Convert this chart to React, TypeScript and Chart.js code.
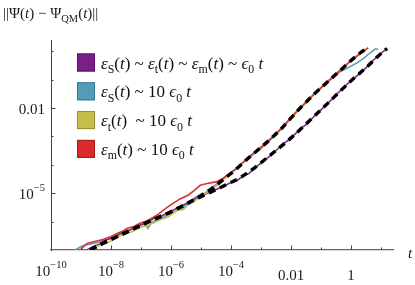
import { useEffect, useRef } from 'react';
import { Chart, registerables } from 'chart.js';

Chart.register(...registerables);

const FONT = '"Liberation Serif", "DejaVu Serif", serif';

// axis ranges
const xAxisMin = 1e-10;
const xAxisMax = 25;
const yAxisMin = 1e-7;
const yAxisMax = 2.5;

// tick values and labels
const xMajorTicks = [1e-10, 1e-8, 1e-6, 1e-4, 1e-2, 1];
const xMajorLabels = ['10^-10', '10^-8', '10^-6', '10^-4', '0.01', '1'];
const xMinorTicks = [1e-9, 1e-7, 1e-5, 1e-3, 0.1, 10];
const yMajorTicks = [1e-5, 1e-2];
const yMajorLabels = ['10^-5', '0.01'];
const yMinorTicks = [1e-6, 1e-4, 1e-3, 0.1, 1];

// data (log10 t, log10 error)
const upperFitLogT = [-8.7, -8.2, -7.5, -6.8, -6.0, -5.4, -5.0, -4.6, -4.2, -3.9, -3.4, -2.8, -2.3, -1.85, -1.2, -0.45, 0.3, 0.57];
const upperFitLogErr = [-7.0, -6.73, -6.38, -6.03, -5.65, -5.33, -5.08, -4.8, -4.47, -4.22, -3.74, -3.2, -2.7, -2.17, -1.48, -0.76, -0.06, 0.12];

const lowerFitLogT = [-8.7, -8.2, -7.5, -6.8, -6.0, -5.4, -4.7, -4.2, -3.7, -3.3, -2.8, -2.0, -1.27, -0.6, 0.03, 0.53, 0.87, 1.2];
const lowerFitLogErr = [-7.0, -6.73, -6.38, -6.03, -5.65, -5.33, -4.97, -4.72, -4.45, -4.17, -3.75, -3.05, -2.33, -1.65, -1.01, -0.55, -0.2, 0.1];

const allLogT = [-8.8, -8.6, -8.4, -8.2, -7.9, -7.7, -7.5, -7.3, -7.0, -6.8, -6.6, -6.4, -6.1, -5.8, -5.5, -5.2, -4.9, -4.6, -4.3, -4.0, -3.8, -3.6, -3.4, -3.2, -2.9, -2.6, -2.3, -2.0, -1.7, -1.45, -1.27, -0.9, -0.6, -0.3, 0.03, 0.3, 0.53, 0.85, 1.2];
const allLogErr = [-7.0, -6.88, -6.8, -6.66, -6.56, -6.42, -6.36, -6.26, -6.1, -6.04, -5.9, -5.84, -5.7, -5.52, -5.37, -5.2, -5.05, -4.91, -4.78, -4.62, -4.55, -4.4, -4.3, -4.1, -3.86, -3.6, -3.3, -3.06, -2.74, -2.54, -2.33, -1.96, -1.65, -1.32, -1.01, -0.78, -0.55, -0.2, 0.1];

const sysLogT = [-9.2, -8.93, -8.7, -8.4, -8.1, -7.8, -7.5, -7.2, -7.0, -6.85, -6.77, -6.65, -6.4, -6.1, -5.8, -5.6, -5.5, -5.2, -4.9, -4.6, -4.3, -4.0, -3.5, -3.0, -2.5, -1.85, -1.2, -0.7, -0.37, -0.1, 0.2, 0.45, 0.63, 0.8, 0.9];
const sysLogErr = [-7.0, -6.84, -6.8, -6.72, -6.6, -6.5, -6.36, -6.22, -6.12, -6.1, -6.24, -6.03, -5.92, -5.77, -5.6, -5.55, -5.4, -5.15, -5.02, -4.78, -4.5, -4.27, -3.83, -3.42, -2.93, -2.17, -1.48, -1.0, -0.72, -0.58, -0.41, -0.22, -0.06, 0.08, 0.08];

const timeLogT = [-8.75, -8.5, -8.2, -7.9, -7.6, -7.3, -7.0, -6.7, -6.4, -6.1, -5.8, -5.6, -5.4, -5.1, -4.8, -4.5, -4.2, -3.9, -3.4, -2.8, -2.3, -1.85, -1.2, -0.45, 0.0, 0.57];
const timeLogErr = [-7.0, -6.88, -6.78, -6.62, -6.45, -6.36, -6.2, -6.1, -5.95, -5.84, -5.6, -5.58, -5.38, -5.2, -4.98, -4.75, -4.47, -4.2, -3.72, -3.19, -2.68, -2.15, -1.45, -0.73, -0.3, 0.13];

const measLogT = [-9.03, -8.8, -8.55, -8.27, -8.0, -7.8, -7.6, -7.47, -7.25, -7.03, -6.8, -6.6, -6.4, -6.13, -5.93, -5.7, -5.43, -5.2, -5.03, -4.8, -4.5, -4.3, -4.1, -3.9, -3.4, -2.8, -2.3, -1.85, -1.2, -0.45, 0.0, 0.57];
const measLogErr = [-7.0, -6.77, -6.7, -6.63, -6.52, -6.42, -6.33, -6.24, -6.17, -6.06, -5.97, -5.85, -5.72, -5.5, -5.36, -5.2, -5.07, -4.88, -4.72, -4.66, -4.6, -4.5, -4.35, -4.2, -3.72, -3.21, -2.7, -2.17, -1.48, -0.76, -0.33, 0.12];

const seriesColors = ['#7d2a91', '#56a0c0', '#c8be46', '#e0302a'];
const boxColors = ['#7b1e8c', '#519cb9', '#c7be4a', '#dc2a2a'];
const boxBorders = ['#56135f', '#3a7690', '#958e2e', '#a31c1c'];

type Kind = 'n' | 'i' | 'sub' | 'sup';
type Piece = [string, Kind];

const legendLabels: Piece[][] = [
  [['ε', 'i'], ['S', 'sub'], ['(', 'n'], ['t', 'i'], [')', 'n'], [' ~ ', 'n'], ['ε', 'i'], ['t', 'sub'], ['(', 'n'], ['t', 'i'], [')', 'n'], [' ~ ', 'n'], ['ε', 'i'], ['m', 'sub'], ['(', 'n'], ['t', 'i'], [')', 'n'], [' ~ ', 'n'], ['ϵ', 'i'], ['0', 'sub'], [' ', 'n'], ['t', 'i']],
  [['ε', 'i'], ['S', 'sub'], ['(', 'n'], ['t', 'i'], [')', 'n'], [' ~ 10 ', 'n'], ['ϵ', 'i'], ['0', 'sub'], [' ', 'n'], ['t', 'i']],
  [['ε', 'i'], ['t', 'sub'], ['(', 'n'], ['t', 'i'], [')', 'n'], ['  ~ 10 ', 'n'], ['ϵ', 'i'], ['0', 'sub'], [' ', 'n'], ['t', 'i']],
  [['ε', 'i'], ['m', 'sub'], ['(', 'n'], ['t', 'i'], [')', 'n'], [' ~ 10 ', 'n'], ['ϵ', 'i'], ['0', 'sub'], [' ', 'n'], ['t', 'i']],
];

const titlePieces: Piece[] = [['||Ψ(', 'n'], ['t', 'i'], [') − Ψ', 'n'], ['QM', 'sub'], ['(', 'n'], ['t', 'i'], [')||', 'n']];

function fontFor(kind: Kind, size: number) {
  if (kind === 'i') return `italic ${size}px ${FONT}`;
  if (kind === 'sub' || kind === 'sup') return `${(size * 0.7).toFixed(1)}px ${FONT}`;
  return `${size}px ${FONT}`;
}

function drawRich(ctx: CanvasRenderingContext2D, pieces: Piece[], x: number, y: number, size: number, align: 'left' | 'center' | 'right') {
  let total = 0;
  const widths = pieces.map(([t, k]) => {
    ctx.font = fontFor(k, size);
    const w = ctx.measureText(t).width;
    total += w;
    return w;
  });
  let cx = x;
  if (align === 'center') cx = x - total / 2;
  if (align === 'right') cx = x - total;
  ctx.textAlign = 'left';
  ctx.textBaseline = 'alphabetic';
  pieces.forEach(([t, k], i) => {
    ctx.font = fontFor(k, size);
    let dy = 0;
    if (k === 'sub') dy = size * 0.26;
    if (k === 'sup') dy = -size * 0.52;
    ctx.fillText(t, cx, y + dy);
    cx += widths[i];
  });
}

function tickPieces(label: string): Piece[] {
  if (label.includes('^')) {
    const [b, e] = label.split('^');
    return [[b, 'n'], [e.replace('-', '−'), 'sup']];
  }
  return [[label, 'n']];
}

const toPoints = (lt: number[], le: number[]) => lt.map((v, i) => ({ x: Math.pow(10, v), y: Math.pow(10, le[i]) }));

const overlayPlugin = {
  id: 'overlay',
  afterDraw(chart: any) {
    const ctx: CanvasRenderingContext2D = chart.ctx;
    const a = chart.chartArea;
    const xs = chart.scales.x;
    const ys = chart.scales.y;
    ctx.save();
    ctx.strokeStyle = '#444';
    ctx.lineWidth = 1;
    const seg = (x1: number, y1: number, x2: number, y2: number) => {
      ctx.beginPath();
      ctx.moveTo(x1, y1);
      ctx.lineTo(x2, y2);
      ctx.stroke();
    };
    xMajorTicks.forEach((v) => {
      const p = Math.round(xs.getPixelForValue(v)) + 0.5;
      seg(p, a.bottom, p, a.bottom - 4.5);
    });
    xMinorTicks.forEach((v) => {
      const p = Math.round(xs.getPixelForValue(v)) + 0.5;
      seg(p, a.bottom, p, a.bottom - 2.5);
    });
    yMajorTicks.forEach((v) => {
      const p = Math.round(ys.getPixelForValue(v)) + 0.5;
      seg(a.left, p, a.left + 4.5, p);
    });
    yMinorTicks.forEach((v) => {
      const p = Math.round(ys.getPixelForValue(v)) + 0.5;
      seg(a.left, p, a.left + 2.5, p);
    });

    ctx.fillStyle = '#1a1a1a';
    xMajorTicks.forEach((v, i) => {
      const lab = xMajorLabels[i];
      const base = lab.includes('^') ? a.bottom + 26 : a.bottom + 30;
      drawRich(ctx, tickPieces(lab), xs.getPixelForValue(v), base, 15, 'center');
    });
    yMajorTicks.forEach((v, i) => {
      drawRich(ctx, tickPieces(yMajorLabels[i]), a.left - 6, ys.getPixelForValue(v) + 6, 15, 'right');
    });

    drawRich(ctx, titlePieces, 3, 18, 15, 'left');
    drawRich(ctx, [['t', 'i']], 410, 258, 15, 'center');

    legendLabels.forEach((pieces, i) => {
      const cy = 62.5 + i * 28.8;
      ctx.fillStyle = boxColors[i];
      ctx.fillRect(77, cy - 9, 18, 18);
      ctx.strokeStyle = boxBorders[i];
      ctx.lineWidth = 1;
      ctx.strokeRect(77.5, cy - 8.5, 17, 17);
      ctx.fillStyle = '#111';
      drawRich(ctx, pieces, 101, cy + 6, 17, 'left');
    });
    ctx.restore();
  },
};

export default function App() {
  const ref = useRef<HTMLCanvasElement | null>(null);
  useEffect(() => {
    document.body.style.margin = '0';
    if (!ref.current) return;
    const colored = (data: { x: number; y: number }[], color: string, order: number) => ({
      data,
      borderColor: color,
      borderWidth: 1.6,
      pointRadius: 0,
      fill: false,
      tension: 0,
      order,
    });
    const dashed = (data: { x: number; y: number }[]) => ({
      data,
      borderColor: '#000',
      borderWidth: 3.4,
      borderDash: [7, 5],
      pointRadius: 0,
      fill: false,
      tension: 0.3,
      cubicInterpolationMode: 'monotone',
      order: 0,
    });
    const chart = new Chart(ref.current, {
      type: 'line',
      data: {
        datasets: [
          dashed(toPoints(upperFitLogT, upperFitLogErr)),
          dashed(toPoints(lowerFitLogT, lowerFitLogErr)),
          colored(toPoints(measLogT, measLogErr), seriesColors[3], 1),
          colored(toPoints(timeLogT, timeLogErr), seriesColors[2], 2),
          colored(toPoints(allLogT, allLogErr), seriesColors[0], 3),
          colored(toPoints(sysLogT, sysLogErr), seriesColors[1], 4),
        ] as any,
      },
      options: {
        animation: false,
        responsive: false,
        parsing: false as any,
        layout: { padding: { left: 51, right: 22, top: 40, bottom: 35 } },
        plugins: { legend: { display: false }, tooltip: { enabled: false } },
        scales: {
          x: {
            type: 'logarithmic',
            min: xAxisMin,
            max: xAxisMax,
            ticks: { display: false },
            grid: { display: false, drawTicks: false },
            border: { display: true, color: '#666', width: 1.2 },
          },
          y: {
            type: 'logarithmic',
            min: yAxisMin,
            max: yAxisMax,
            ticks: { display: false },
            grid: { display: false, drawTicks: false },
            border: { display: true, color: '#444', width: 1 },
          },
        },
      },
      plugins: [overlayPlugin],
    });
    return () => chart.destroy();
  }, []);
  return (
    <div style={{ width: 415, height: 285 }}>
      <canvas ref={ref} width={415} height={285} style={{ display: 'block' }} />
    </div>
  );
}
